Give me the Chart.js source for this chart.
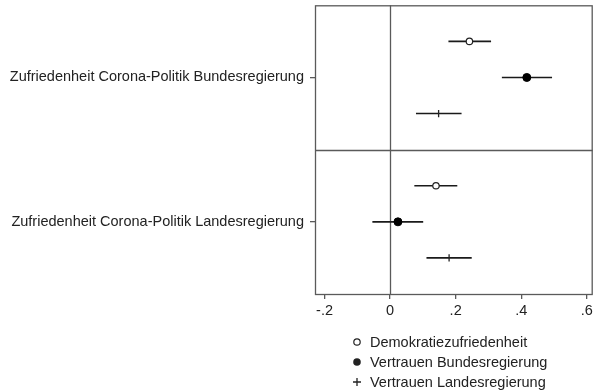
<!DOCTYPE html>
<html>
<head>
<meta charset="utf-8">
<script src="https://cdn.jsdelivr.net/npm/chart.js@4/dist/chart.umd.min.js"></script>
<style>
  html, body { margin: 0; padding: 0; background: #fff; overflow: hidden; }
  #wrap { width: 598px; height: 392px; }
</style>
</head>
<body>
<div id="wrap"><canvas id="coefplot"></canvas></div>
<script>
// outcome rows on the y axis
const categories = [
  'Zufriedenheit Corona-Politik Bundesregierung',
  'Zufriedenheit Corona-Politik Landesregierung'
];
const seriesNames = ['Demokratiezufriedenheit', 'Vertrauen Bundesregierung', 'Vertrauen Landesregierung'];

// point estimates and confidence bounds, one value per row
const demokratieEst = [0.242, 0.140];
const demokratieLo = [0.178, 0.074];
const demokratieHi = [0.308, 0.205];

const bundesEst = [0.417, 0.024];
const bundesLo = [0.341, -0.054];
const bundesHi = [0.494, 0.101];

const landesEst = [0.148, 0.180];
const landesLo = [0.079, 0.111];
const landesHi = [0.218, 0.249];

const xTicks = [-0.2, 0, 0.2, 0.4, 0.6];
const xTickLabels = ['-.2', '0', '.2', '.4', '.6'];

const FONT = '"Liberation Sans", Arial, sans-serif';
const FONT_SIZE = 14.5;
const AXIS = '#5a5a5a';

const estimates = [demokratieEst, bundesEst, landesEst];
const lows = [demokratieLo, bundesLo, landesLo];
const highs = [demokratieHi, bundesHi, landesHi];
const offsets = [-0.25, 0, 0.25];
const markers = [
  { pointStyle: 'circle', radius: 3.2, bg: '#fff', border: '#222', bw: 1.2 },
  { pointStyle: 'circle', radius: 4, bg: '#000', border: '#000', bw: 1 },
  { pointStyle: 'line', radius: 3.6, bg: '#000', border: '#222', bw: 1.3, rotation: 90 }
];

const datasets = seriesNames.map((name, s) => ({
  label: name,
  data: categories.map((c, i) => ({ x: estimates[s][i], y: i + 1 + offsets[s], lo: lows[s][i], hi: highs[s][i] })),
  pointStyle: markers[s].pointStyle,
  rotation: markers[s].rotation || 0,
  pointRadius: markers[s].radius,
  backgroundColor: markers[s].bg,
  borderColor: markers[s].border,
  borderWidth: markers[s].bw
}));

// keep tick labels from shrinking the plot area
const noEdgePadding = s => {
  s.paddingLeft = 0; s.paddingRight = 0; s.paddingTop = 0; s.paddingBottom = 0;
};

// confidence intervals, reference lines and plot frame
const coefPlot = {
  id: 'coefPlot',
  beforeDatasetsDraw(chart) {
    const { ctx, chartArea: a, scales: { x, y } } = chart;
    ctx.save();
    ctx.strokeStyle = AXIS;
    ctx.lineWidth = 1.3;
    // zero line
    const x0 = Math.round(x.getPixelForValue(0)) + 0.5;
    ctx.beginPath(); ctx.moveTo(x0, a.top); ctx.lineTo(x0, a.bottom); ctx.stroke();
    // separator between rows
    const ys = Math.round(y.getPixelForValue(1.5)) + 0.5;
    ctx.beginPath(); ctx.moveTo(a.left, ys); ctx.lineTo(a.right, ys); ctx.stroke();
    // frame
    ctx.strokeRect(a.left + 0.5, a.top + 0.5, a.right - a.left - 1, a.bottom - a.top);
    // error bars
    ctx.strokeStyle = '#1a1a1a';
    ctx.lineWidth = 1.6;
    chart.data.datasets.forEach(ds => {
      ds.data.forEach(p => {
        const py = y.getPixelForValue(p.y);
        ctx.beginPath();
        ctx.moveTo(x.getPixelForValue(p.lo), py);
        ctx.lineTo(x.getPixelForValue(p.hi), py);
        ctx.stroke();
      });
    });
    ctx.restore();
  },
  afterDraw(chart) {
    const { ctx } = chart;
    ctx.save();
    ctx.font = FONT_SIZE + 'px ' + FONT;
    ctx.textBaseline = 'middle';
    const symX = 357, textX = 370, rowY = [342, 362, 382];
    seriesNames.forEach((name, s) => {
      const cy = rowY[s];
      ctx.strokeStyle = '#222';
      ctx.fillStyle = '#222';
      if (s === 0) {
        ctx.lineWidth = 1.2;
        ctx.beginPath(); ctx.arc(symX, cy, 3.2, 0, Math.PI * 2); ctx.stroke();
      } else if (s === 1) {
        ctx.beginPath(); ctx.arc(symX, cy, 3.8, 0, Math.PI * 2); ctx.fill();
      } else {
        ctx.lineWidth = 1.3;
        ctx.beginPath();
        ctx.moveTo(symX - 4, cy); ctx.lineTo(symX + 4, cy);
        ctx.moveTo(symX, cy - 4); ctx.lineTo(symX, cy + 4);
        ctx.stroke();
      }
      ctx.fillText(name, textX, cy + 0.5);
    });
    ctx.restore();
  }
};

new Chart(document.getElementById('coefplot'), {
  type: 'scatter',
  data: { datasets },
  options: {
    responsive: true,
    maintainAspectRatio: false,
    animation: false,
    layout: { padding: { top: 5, right: 0, bottom: 75, left: 0 } },
    plugins: { legend: { display: false }, tooltip: { enabled: false } },
    scales: {
      x: {
        type: 'linear',
        min: -0.229,
        max: 0.618,
        afterBuildTicks: s => { s.ticks = xTicks.map(v => ({ value: v })); },
        afterFit: s => { s.height = 23; noEdgePadding(s); },
        grid: { drawOnChartArea: false, drawTicks: true, tickLength: 5, color: AXIS, lineWidth: 1.3 },
        border: { display: false },
        ticks: {
          padding: 3,
          maxRotation: 0,
          color: '#222',
          font: { family: FONT, size: FONT_SIZE },
          callback: (v, i) => xTickLabels[i]
        }
      },
      y: {
        type: 'linear',
        reverse: true,
        min: 0.5,
        max: 2.5,
        afterBuildTicks: s => { s.ticks = categories.map((c, i) => ({ value: i + 1 })); },
        afterFit: s => { s.width = 315; noEdgePadding(s); },
        grid: { drawOnChartArea: false, drawTicks: true, tickLength: 5, color: AXIS, lineWidth: 1.3 },
        border: { display: false },
        ticks: {
          padding: 6,
          color: '#222',
          font: { family: FONT, size: FONT_SIZE },
          callback: (v, i) => categories[i]
        }
      }
    }
  },
  plugins: [coefPlot]
});
</script>
</body>
</html>
